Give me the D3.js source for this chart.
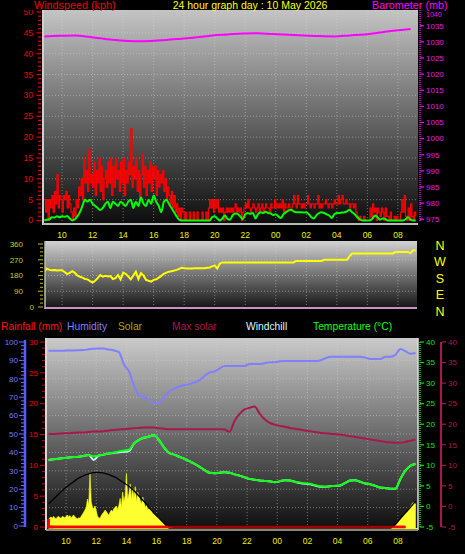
<!DOCTYPE html>
<html><head><meta charset="utf-8">
<script src="https://cdn.jsdelivr.net/npm/d3@7"></script>
<style>
html,body{margin:0;padding:0;background:#000;}
svg{display:block;}
text{font-family:"Liberation Sans",Arial,sans-serif;}
</style>
</head><body>
<svg id="c" width="465" height="554"></svg>
<script>
// ---------------- DATA ----------------
// series start 9 May 2026 08:50
// wind gust (kph), 5-minute steps
const windGust = [
  5, 2,
  5, 0, 5, 3, 6, 2, 7, 4, 11, 3, 6, 5,
  2, 6, 5, 7, 3, 6, 4, 2, 0, 3, 1, 5,
  3, 8, 6, 10, 5, 15, 9, 12, 7, 17, 9, 11,
  8, 14, 6, 12, 9, 15, 7, 13, 5, 10, 12, 8,
  14, 9, 15, 6, 13, 8, 15, 10, 12, 7, 14, 9,
  15, 6, 12, 9, 14, 11, 22, 8, 13, 10, 15, 7,
  12, 5, 11, 16, 8, 13, 6, 12, 9, 14, 7, 13,
  10, 13, 6, 12, 8, 11, 9, 12, 7, 10, 5, 8,
  6, 4, 7, 3, 6, 2, 4, 1, 3, 0, 3, 2,
  0, 2, 0, 0, 2, 0, 0, 2, 0, 0, 2, 0,
  0, 0, 2, 0, 0, 2, 0, 3, 5, 3, 5, 2,
  5, 3, 5, 2, 3, 2, 3, 0, 2, 3, 2, 3,
  2, 3, 2, 3, 4, 2, 3, 2, 3, 0, 2, 3,
  4, 3, 5, 3, 2, 3, 4, 3, 2, 3, 4, 2,
  3, 4, 2, 3, 4, 3, 3, 2, 4, 3, 3, 5,
  3, 4, 3, 4, 3, 5, 2, 4, 3, 3, 4, 3,
  3, 4, 6, 4, 3, 6, 4, 4, 3, 4, 3, 4,
  4, 6, 4, 3, 4, 4, 3, 4, 4, 6, 3, 4,
  3, 4, 4, 5, 4, 3, 4, 4, 3, 4, 5, 4,
  4, 6, 4, 5, 6, 4, 4, 5, 4, 4, 3, 4,
  4, 3, 4, 2, 1, 0, 1, 0, 0, 1, 0, 0,
  0, 0, 3, 1, 4, 2, 3, 0, 3, 2, 1, 3,
  2, 0, 3, 1, 1, 0, 2, 0, 0, 1, 0, 1,
  0, 0, 2, 5, 2, 6, 1, 0, 3, 0, 4, 1,
  0, 2, 1
];
// average wind (kph), 10-minute steps
const windAvg = [
  0,
  0.2, 0.3, 0.8, 0.7, 1, 0.8,
  1, 0.9, 1.1, 0.5, 0, 0.3,
  1, 2, 3.5, 5, 4.5, 5,
  4, 3.5, 3, 2.5, 3, 4,
  4.5, 3, 4.5, 4, 3.5, 4.5,
  4, 3.5, 4.5, 5, 3, 4.5,
  3.5, 5.5, 4, 3.5, 5, 4,
  6, 4.5, 3.5, 2, 4.5, 5,
  4, 3, 2, 1, 0.2, 0,
  0, 0, 0, 0, 0, 0,
  0, 0, 0, 0, 0, 0.8,
  1, 0.5, 0, 0.5, 1.2, 0.4,
  0.2, 1.2, 1.7, 1.6, 1, 0.3,
  1.5, 1.8, 1.6, 1.8, 0.5, 1.5,
  2, 1.8, 2.1, 1.8, 1.7, 1.3,
  1.5, 1, 0.6, 1.5, 2, 2.4,
  2.6, 2.2, 2, 2, 2, 1.9,
  2, 1.5, 0.8, 0.5, 1.3, 1.8,
  2, 1.8, 1.5, 1.2, 0.6, 1.5,
  1.8, 1.8, 1.9, 2, 2.2, 2.6,
  2, 1.5, 0.8, 0.3, 0, 0,
  0, 0, 0.5, 1.2, 0.8, 0.2,
  0.5, 0.4, 0, 0, 0, 0,
  0, 0, 0, 0.3, 0.8, 0.2,
  0, 0
];
// barometer (mb), hourly steps
const barometer = [1031.7, 1031.9, 1032, 1031.5, 1030.9, 1030.4, 1030.2, 1030.3, 1030.6, 1031,
  1031.4, 1032, 1032.3, 1032.6, 1032.7, 1032.4, 1032.2, 1032, 1031.8, 1031.7,
  1032, 1032.3, 1032.9, 1033.5, 1034];
// wind direction (deg), 10-minute steps
const windDir = [
  200,
  220, 212, 210, 211, 208, 210,
  210, 200, 188, 195, 205, 195,
  180, 173, 168, 160, 158, 148,
  140, 150, 165, 183, 173, 178,
  175, 177, 160, 165, 183, 158,
  196, 190, 175, 158, 180, 202,
  160, 193, 180, 155, 150, 145,
  155, 158, 168, 178, 190, 196,
  202, 204, 208, 212, 218, 224,
  222, 220, 220, 220, 221, 221,
  222, 222, 222, 224, 226, 232,
  238, 220, 248, 255, 255, 255,
  255, 255, 255, 255, 255, 255,
  255, 255, 255, 255, 255, 255,
  255, 255, 255, 255, 255, 255,
  255, 255, 255, 255, 255, 255,
  255, 255, 263, 263, 263, 263,
  263, 263, 263, 263, 263, 263,
  263, 270, 270, 270, 270, 270,
  270, 270, 270, 270, 270, 290,
  306, 306, 306, 306, 306, 306,
  306, 306, 306, 306, 306, 306,
  306, 306, 306, 306, 306, 314,
  314, 314, 314, 314, 314, 308,
  325, 325
];
const compassLabels = ["N", "W", "S", "E", "N"];
const compassDegrees = [360, 270, 180, 90, 0];
// bottom panel, 20-minute steps
const humidity = [
  95.3, 95.3, 95.3, 95.3,
  95.4, 95.4, 95.5,
  95.6, 96.1, 96.3,
  96.4, 96.4, 95.9,
  95.4, 94.5, 87.9,
  84.0, 76.4, 71.0,
  70.1, 68.8, 66.3,
  67.0, 70.0, 73.3,
  74.8, 75.8, 76.6,
  77.1, 78.0, 79.1,
  81.5, 83.4, 84.0,
  85.5, 87.0, 87.0,
  87.0, 87.0, 87.0,
  88.0, 88.0, 88.0,
  88.5, 89.0, 89.0,
  89.5, 89.7, 89.7,
  89.7, 89.7, 89.7,
  89.7, 89.7, 90.0,
  91.0, 92.0, 92.0,
  92.0, 92.0, 92.0,
  92.0, 92.0, 91.5,
  90.8, 90.8, 90.8,
  92.0, 92.0, 93.0,
  96.2, 95.0, 93.6,
  94.0
];
const temperature = [
  11.3, 11.5, 11.6, 11.8,
  11.9, 12.0, 12.1,
  12.3, 12.5, 12.2,
  12.4, 12.6, 12.9,
  13.1, 13.4, 13.6,
  13.8, 15.3, 16.2,
  16.7, 17.0, 17.3,
  16.1, 14.3, 13.0,
  12.6, 12.1, 11.6,
  11.0, 10.4, 9.7,
  8.9, 8.2, 8.1,
  8.2, 8.3, 8.2,
  7.8, 7.5, 7.1,
  6.7, 6.5, 6.3,
  6.2, 6.1, 5.9,
  6.1, 6.4, 6.3,
  6.0, 5.8, 5.6,
  5.5, 5.2, 4.9,
  4.8, 4.9, 5.0,
  5.1, 5.7, 6.3,
  6.4, 6.0, 5.6,
  5.4, 5.0, 4.6,
  4.5, 4.3, 4.3,
  6.7, 8.7, 9.9,
  10.3
];
const windchill = [
  11.3, 11.5, 11.6, 11.8,
  11.9, 12.0, 12.1,
  12.3, 12.5, 11.3,
  12.4, 12.6, 12.9,
  13.0, 13.2, 13.3,
  13.5, 15.3, 16.2,
  16.7, 17.0, 17.3,
  16.1, 14.3, 13.0,
  12.6, 12.1, 11.6,
  11.0, 10.4, 9.7,
  8.9, 8.2, 8.1,
  8.2, 8.3, 8.2,
  7.8, 7.5, 7.1,
  6.7, 6.5, 6.3,
  6.2, 6.1, 5.9,
  6.1, 6.4, 6.3,
  6.0, 5.7, 5.5,
  5.4, 5.1, 4.8,
  4.8, 4.9, 5.0,
  5.1, 5.7, 6.3,
  6.4, 6.0, 5.6,
  5.4, 5.0, 4.6,
  4.5, 4.3, 4.3,
  6.7, 8.7, 9.9,
  10.3
];
const crimsonSeries = [
  17.6, 17.6, 17.7, 17.8,
  17.8, 17.9, 18.0,
  18.0, 18.1, 18.2,
  18.2, 18.3, 18.5,
  18.6, 18.7, 18.8,
  18.9, 19.0, 19.1,
  19.2, 19.2, 19.2,
  19.0, 18.9, 18.8,
  18.8, 18.8, 18.8,
  18.8, 18.8, 18.8,
  18.8, 18.8, 18.8,
  18.8, 18.7, 18.2,
  20.8, 22.5, 23.6,
  24.0, 24.3, 22.6,
  21.2, 20.3, 19.9,
  19.6, 19.4, 19.1,
  18.9, 18.7, 18.5,
  18.3, 18.1, 17.9,
  17.8, 17.7, 17.6,
  17.5, 17.3, 17.1,
  16.9, 16.7, 16.5,
  16.3, 16.1, 15.9,
  15.7, 15.6, 15.5,
  15.5, 15.7, 16.0,
  16.2
];
const maxSolar = [
  350, 420, 490, 560,
  620, 672, 725,
  760, 787, 805,
  808, 795, 775,
  745, 705, 655,
  605, 540, 465,
  385, 300, 215,
  140, 68, 0,
  0, 0, 0,
  0, 0, 0,
  0, 0, 0,
  0, 0, 0,
  0, 0, 0,
  0, 0, 0,
  0, 0, 0,
  0, 0, 0,
  0, 0, 0,
  0, 0, 0,
  0, 0, 0,
  0, 0, 0,
  0, 0, 0,
  0, 0, 0,
  0, 0, 50,
  140, 220, 300,
  390
];
const rainfall = [
  1.3, 0, 0, 0,
  0, 0, 0, 0, 0, 0, 0, 0, 0, 0, 0, 0, 0, 0, 0, 0, 0, 0, 0, 0, 0,
  0, 0, 0, 0, 0, 0, 0, 0, 0, 0, 0, 0, 0, 0, 0, 0, 0, 0, 0, 0, 0,
  0, 0, 0, 0, 0, 0, 0, 0, 0, 0, 0, 0, 0, 0, 0, 0, 0, 0, 0, 0, 0,
  0, 0, 0, 0, 0
];
// solar (W/m2), 5-minute steps from 08:50 (day) and from 07:30 next morning
const solarDay = [
  120, 150,
  160, 140, 170, 150, 130, 160, 170, 150, 140, 170, 160, 150,
  170, 190, 160, 180, 150, 170, 190, 160, 150, 130, 150, 140,
  170, 200, 230, 260, 300, 420, 330, 800, 380, 300, 280, 320,
  250, 170, 150, 140, 180, 210, 230, 260, 240, 210, 190, 230,
  260, 240, 280, 300, 320, 270, 330, 430, 300, 520, 380, 470,
  790, 420, 500, 640, 430, 570, 440, 600, 380, 520, 460, 400,
  350, 450, 380, 300, 330, 270, 280, 250, 260, 210, 220, 200,
  180, 160, 140, 120, 100, 80, 60, 40, 30, 20, 15, 10,
  5, 0
];
const solarMorning = [0, 5, 15, 30, 45, 60, 80, 100, 120, 140, 160, 185, 210, 230, 255, 280, 310, 340, 370, 360, 350];

const windTicks = [0, 5, 10, 15, 20, 25, 30, 35, 40, 45, 50];
const baroTicks = [975, 980, 985, 990, 995, 1000, 1005, 1010, 1015, 1020, 1025, 1030, 1035, 1040];
const dirTicks = [0, 90, 180, 270, 360];
const humTicks = [0, 10, 20, 30, 40, 50, 60, 70, 80, 90, 100];
const rainTicks = [0, 5, 10, 15, 20, 25, 30];
const tempTicks = [-5, 0, 5, 10, 15, 20, 25, 30, 35, 40];

const legendItems = ["Rainfall (mm)", "Humidity", "Solar", "Max solar", "Windchill", "Temperature (\u00B0C)"];
const legendColors = ["#ff1010", "#7f7fff", "#a8a800", "#a8184c", "#d0ffff", "#10ff10"];

// ---------------- TIME ----------------
const T0 = new Date(2026, 4, 9, 8, 50);
const TM = new Date(2026, 4, 10, 7, 30);
const at = (base, i, step) => new Date(base.getTime() + i * step * 60000);

// ---------------- LAYOUT ----------------
const P1 = {l: 43, r: 418, t: 10, b: 224};
const P2 = {l: 45, r: 417, t: 241, b: 309};
const P3 = {l: 46, r: 418, t: 338, b: 529};

const xTop = d3.scaleTime().domain([new Date(2026,4,9,8,45), new Date(2026,4,10,9,19)]).range([P1.l, P1.r]);
const xBot = d3.scaleTime().domain([new Date(2026,4,9,8,40), new Date(2026,4,10,9,20)]).range([P3.l, P3.r]);
const yWind = d3.scaleLinear().domain([0, 50]).range([220.5, 12]);
const yBaro = d3.scaleLinear().domain([975, 1040]).range([219.3, 9.6]);
const yDir = d3.scaleLinear().domain([0, 360]).range([307, 244]);
const yCompass = d3.scaleLinear().domain([0, 360]).range([311, 245]);
const yHum = d3.scaleLinear().domain([0, 100]).range([526, 342]);
const yRain = d3.scaleLinear().domain([0, 30]).range([527, 342]);
const yTemp = d3.scaleLinear().domain([-5, 40]).range([527, 342]);
const ySolar = d3.scaleLinear().domain([0, 2700]).range([528, 342]);

const svg = d3.select("#c");
const defs = svg.append("defs");

function gradient(id, c0, c1) {
  const g = defs.append("linearGradient").attr("id", id).attr("x1", 0).attr("y1", 0).attr("x2", 0).attr("y2", 1);
  g.append("stop").attr("offset", 0).attr("stop-color", c0);
  g.append("stop").attr("offset", 1).attr("stop-color", c1);
}
gradient("g1", "#c4c4c4", "#0c0c0c");
gradient("g2", "#d2d2d2", "#121212");
gradient("g3", "#cacaca", "#0e0e0e");

function clip(id, p) {
  defs.append("clipPath").attr("id", id).append("rect")
    .attr("x", p.l).attr("y", p.t).attr("width", p.r - p.l).attr("height", p.b - p.t);
}
clip("c1", P1); clip("c2", P2); clip("c3", P3);

function bg(p, g) {
  svg.append("rect").attr("x", p.l).attr("y", p.t).attr("width", p.r - p.l).attr("height", p.b - p.t)
    .attr("fill", `url(#${g})`);
}
bg(P1, "g1"); bg(P2, "g2"); bg(P3, "g3");

const gridStyle = s => s.attr("stroke", "#d8d8d8").attr("stroke-opacity", 0.45).attr("stroke-dasharray", "1,2").attr("stroke-width", 1);

const hours = d3.timeHour.every(2).range(new Date(2026,4,9,9,0), new Date(2026,4,10,9,0));
const fmt = d3.timeFormat("%H");

// ---------------- PANEL 1: wind + barometer ----------------
const g1 = svg.append("g").attr("clip-path", "url(#c1)");
hours.forEach(h => g1.append("line").attr("x1", xTop(h)).attr("x2", xTop(h)).attr("y1", P1.t).attr("y2", P1.b).call(gridStyle));
windTicks.slice(1, -1).forEach(v => g1.append("line").attr("x1", P1.l).attr("x2", P1.r).attr("y1", yWind(v)).attr("y2", yWind(v)).call(gridStyle));

g1.append("path").datum(windGust)
  .attr("d", d3.line().curve(d3.curveStepAfter).x((d, i) => xTop(at(T0, i, 5))).y(d => yWind(d)))
  .attr("fill", "none").attr("stroke", "#ff0000").attr("stroke-width", 1.15);
g1.append("path").datum(windAvg)
  .attr("d", d3.line().curve(d3.curveMonotoneX).x((d, i) => xTop(at(T0, i, 10))).y(d => yWind(d)))
  .attr("fill", "none").attr("stroke", "#00ff00").attr("stroke-width", 2);
g1.append("path").datum(barometer)
  .attr("d", d3.line().curve(d3.curveMonotoneX).x((d, i) => xTop(at(T0, i, 60))).y(d => yBaro(d)))
  .attr("fill", "none").attr("stroke", "#ff00ff").attr("stroke-width", 2);

// frame
svg.append("line").attr("x1", P1.l).attr("x2", P1.l).attr("y1", P1.t).attr("y2", P1.b + 1).attr("stroke", "#d0d0d0").attr("stroke-width", 2);
svg.append("line").attr("x1", P1.l).attr("x2", P1.r).attr("y1", P1.b).attr("y2", P1.b).attr("stroke", "#b8b8b8").attr("stroke-width", 2);

// left wind axis
d3.range(0, 51).forEach(v => svg.append("line").attr("x1", v % 5 === 0 ? 36.5 : 38).attr("x2", 41).attr("y1", yWind(v)).attr("y2", yWind(v)).attr("stroke", "#e00000").attr("stroke-width", 1.2));
windTicks.forEach(v => svg.append("text").attr("x", 33).attr("y", yWind(v)).attr("dy", "0.35em").attr("text-anchor", "end")
  .attr("font-size", 8.5).attr("fill", "#e80000").text(v));
// right barometer axis
svg.append("line").attr("x1", 420).attr("x2", 420).attr("y1", P1.t).attr("y2", P1.b - 2).attr("stroke", "#ff00ff").attr("stroke-width", 1.5).attr("stroke-dasharray", "1,1");
baroTicks.forEach(v => {
  svg.append("line").attr("x1", 420).attr("x2", 424).attr("y1", yBaro(v)).attr("y2", yBaro(v)).attr("stroke", "#ff00ff").attr("stroke-width", 1.2);
  // top label sits just below the title line, as in the reference where it is partly hidden
  svg.append("text").attr("x", 426).attr("y", v === 1040 ? yBaro(v) + 4.5 : yBaro(v)).attr("dy", "0.35em")
    .attr("font-size", v === 1040 ? 7 : 8).attr("fill", "#e818e8").text(v);
});
// x labels top
hours.forEach(h => svg.append("text").attr("x", xTop(h)).attr("y", 235).attr("dy", "0.35em").attr("text-anchor", "middle")
  .attr("font-size", 8.5).attr("fill", "#f0f000").text(fmt(h)));

// titles
svg.append("rect").attr("x", 0).attr("y", 0).attr("width", 465).attr("height", 10).attr("fill", "#000");
svg.append("text").attr("x", 34).attr("y", 8.5).attr("font-size", 10.8).attr("fill", "#ee0000").text("Windspeed (kph)");
svg.append("text").attr("x", 250).attr("y", 8.5).attr("text-anchor", "middle").attr("font-size", 10.5).attr("fill", "#ffff00").text("24 hour graph day : 10 May 2026");
svg.append("text").attr("x", 372).attr("y", 8.5).attr("font-size", 10.8).attr("fill", "#ff00ff").text("Barometer (mb)");

// ---------------- PANEL 2: wind direction ----------------
const g2 = svg.append("g").attr("clip-path", "url(#c2)");
hours.forEach(h => g2.append("line").attr("x1", xTop(h)).attr("x2", xTop(h)).attr("y1", P2.t).attr("y2", P2.b).call(gridStyle));
[90, 180, 270].forEach(v => g2.append("line").attr("x1", P2.l).attr("x2", P2.r).attr("y1", yDir(v)).attr("y2", yDir(v)).call(gridStyle));
g2.append("line").attr("x1", P2.l).attr("x2", P2.r).attr("y1", yDir(0) + 1).attr("y2", yDir(0) + 1).attr("stroke", "#c890c8").attr("stroke-width", 2);
g2.append("path").datum(windDir)
  .attr("d", d3.line().x((d, i) => xTop(at(T0, i, 10))).y(d => yDir(d)))
  .attr("fill", "none").attr("stroke", "#ffff00").attr("stroke-width", 2);
svg.append("line").attr("x1", P2.l).attr("x2", P2.l).attr("y1", P2.t).attr("y2", P2.b).attr("stroke", "#bbbbbb").attr("stroke-width", 1.5);
d3.range(0, 361, 22.5).forEach(v => svg.append("line").attr("x1", v % 90 === 0 ? 38 : 40).attr("x2", 43).attr("y1", yDir(v)).attr("y2", yDir(v)).attr("stroke", "#a0a000").attr("stroke-width", 1.2));
dirTicks.forEach(v => svg.append("text").attr("x", v === 0 ? 34 : 23).attr("y", yDir(v)).attr("dy", "0.35em").attr("text-anchor", "end")
  .attr("font-size", 8).attr("fill", "#c8c828").text(v));
compassLabels.forEach((c, i) => svg.append("text").attr("x", 440).attr("y", yCompass(compassDegrees[i])).attr("dy", "0.36em")
  .attr("text-anchor", "middle").attr("font-size", 12.5).attr("fill", "#ffff00").text(c));

// ---------------- PANEL 3: rain / humidity / solar / temperature ----------------
legendItems.forEach((t, i) => {
  const xs = [1, 67, 118, 172, 246, 313];
  svg.append("text").attr("x", xs[i]).attr("y", 330).attr("font-size", 10.3).attr("fill", legendColors[i]).text(t);
});

const g3 = svg.append("g").attr("clip-path", "url(#c3)");
hours.forEach(h => g3.append("line").attr("x1", xBot(h)).attr("x2", xBot(h)).attr("y1", P3.t).attr("y2", P3.b).call(gridStyle));
humTicks.slice(1, -1).forEach(v => g3.append("line").attr("x1", P3.l).attr("x2", P3.r).attr("y1", yHum(v)).attr("y2", yHum(v)).call(gridStyle));

const solarArea = (base) => d3.area().x((d, i) => xBot(at(base, i, 5))).y0(ySolar(0)).y1(d => ySolar(d));
const solarPathDay = solarArea(T0)(solarDay);
const solarPathMorning = solarArea(TM)(solarMorning);
[solarPathDay, solarPathMorning].forEach(p => g3.append("path").attr("d", p).attr("fill", "#ffff30").attr("stroke", "#ffff00").attr("stroke-width", 0.6));
const cp = defs.append("clipPath").attr("id", "solarClip");
[solarPathDay, solarPathMorning].forEach(p => cp.append("path").attr("d", p));
// solar baseline
g3.append("line").attr("x1", xBot(T0)).attr("x2", P3.r).attr("y1", ySolar(0) + 0.5).attr("y2", ySolar(0) + 0.5).attr("stroke", "#ffff00").attr("stroke-width", 1.2);

g3.append("path").datum(maxSolar)
  .attr("d", d3.line().curve(d3.curveMonotoneX).x((d, i) => xBot(at(T0, i, 20))).y(d => ySolar(d)))
  .attr("fill", "none").attr("stroke", "#000").attr("stroke-width", 1.3);

const rainLine = d3.line().curve(d3.curveStepBefore).x((d, i) => xBot(at(T0, i, 20))).y(d => yRain(d));
g3.append("path").datum(rainfall).attr("d", rainLine).attr("fill", "none").attr("stroke", "#a00000").attr("stroke-width", 2.5);
g3.append("g").attr("clip-path", "url(#solarClip)").append("path").datum(rainfall).attr("d", rainLine)
  .attr("fill", "none").attr("stroke", "#ff0000").attr("stroke-width", 2.5);
g3.append("path").datum(rainfall.slice(0, 2)).attr("d", rainLine).attr("fill", "none").attr("stroke", "#ff0000").attr("stroke-width", 2.5);

const line20 = (ys) => d3.line().curve(d3.curveMonotoneX).x((d, i) => xBot(at(T0, i, 20))).y(d => ys(d));
g3.append("path").datum(crimsonSeries).attr("d", line20(yTemp)).attr("fill", "none").attr("stroke", "#a8184c").attr("stroke-width", 2);
g3.append("path").datum(humidity).attr("d", line20(yHum)).attr("fill", "none").attr("stroke", "#7f7fff").attr("stroke-width", 2);
g3.append("path").datum(windchill).attr("d", line20(yTemp)).attr("fill", "none").attr("stroke", "#b8ffff").attr("stroke-width", 2);
g3.append("path").datum(temperature).attr("d", line20(yTemp)).attr("fill", "none").attr("stroke", "#10ff10").attr("stroke-width", 2);

// frame
svg.append("line").attr("x1", P3.l).attr("x2", P3.l).attr("y1", P3.t).attr("y2", P3.b + 1).attr("stroke", "#d8d8d8").attr("stroke-width", 2);
svg.append("line").attr("x1", P3.r).attr("x2", P3.r).attr("y1", P3.t).attr("y2", P3.b + 1).attr("stroke", "#e0e0e0").attr("stroke-width", 1.5);
svg.append("line").attr("x1", P3.l).attr("x2", P3.r).attr("y1", P3.b + 1).attr("y2", P3.b + 1).attr("stroke", "#b0b0b0").attr("stroke-width", 1.5);

// humidity axis (left, blue)
svg.append("line").attr("x1", 25).attr("x2", 25).attr("y1", yHum(100) - 2).attr("y2", yHum(0) + 1).attr("stroke", "#5a5aff").attr("stroke-width", 2.5);
d3.range(0, 101, 2).forEach(v => svg.append("line").attr("x1", v % 10 === 0 ? 19 : 21).attr("x2", 24).attr("y1", yHum(v)).attr("y2", yHum(v)).attr("stroke", "#6a6aff").attr("stroke-width", 1));
humTicks.forEach(v => svg.append("text").attr("x", 18).attr("y", yHum(v)).attr("dy", "0.35em").attr("text-anchor", "end")
  .attr("font-size", 8).attr("fill", "#7878ff").text(v));
// rain axis (left, red)
d3.range(0, 31).forEach(v => svg.append("line").attr("x1", v % 5 === 0 ? 40 : 42).attr("x2", 45).attr("y1", yRain(v)).attr("y2", yRain(v)).attr("stroke", "#d00000").attr("stroke-width", 1));
rainTicks.forEach(v => svg.append("text").attr("x", 38).attr("y", yRain(v)).attr("dy", "0.35em").attr("text-anchor", "end")
  .attr("font-size", 8).attr("fill", "#ee0000").text(v));
// temperature axis (right, green)
svg.append("line").attr("x1", 420).attr("x2", 420).attr("y1", yTemp(40)).attr("y2", yTemp(-5)).attr("stroke", "#10e010").attr("stroke-width", 1.5).attr("stroke-dasharray", "1,1");
tempTicks.forEach(v => {
  svg.append("line").attr("x1", 420).attr("x2", 424).attr("y1", yTemp(v)).attr("y2", yTemp(v)).attr("stroke", "#10e010").attr("stroke-width", 1.2);
  svg.append("text").attr("x", 426).attr("y", yTemp(v)).attr("dy", "0.35em").attr("font-size", 8).attr("fill", "#10e010").text(v);
});
// crimson axis (right)
svg.append("line").attr("x1", 441).attr("x2", 441).attr("y1", yTemp(40)).attr("y2", yTemp(-5)).attr("stroke", "#a8184c").attr("stroke-width", 2);
tempTicks.forEach(v => {
  svg.append("line").attr("x1", 442).attr("x2", 446).attr("y1", yTemp(v)).attr("y2", yTemp(v)).attr("stroke", "#a8184c").attr("stroke-width", 1.2);
  svg.append("text").attr("x", 448).attr("y", yTemp(v)).attr("dy", "0.35em").attr("font-size", 8).attr("fill", "#b01850").text(v);
});
// x labels bottom
hours.forEach(h => svg.append("text").attr("x", xBot(h)).attr("y", 541).attr("dy", "0.35em").attr("text-anchor", "middle")
  .attr("font-size", 8.5).attr("fill", "#f0f000").text(fmt(h)));
</script>
</body></html>
